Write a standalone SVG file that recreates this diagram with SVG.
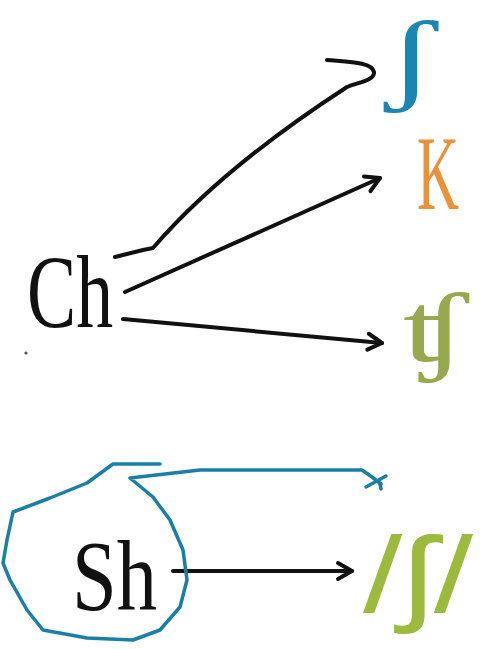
<svg xmlns="http://www.w3.org/2000/svg" width="493" height="649" viewBox="0 0 493 649">
<style>
.ink{fill:none;stroke:#111;stroke-width:4;stroke-linecap:round;stroke-linejoin:round}
.blue{fill:none;stroke:#1a7fa6;stroke-width:3.5;stroke-linecap:round;stroke-linejoin:round}
text{font-family:'Liberation Serif','Times New Roman',serif}
</style>
<defs>
<marker id="ah" markerWidth="8" markerHeight="8" refX="6" refY="4" orient="auto" markerUnits="userSpaceOnUse" viewBox="0 0 8 8" overflow="visible">
<path d="M-8,-4 L6,4 L-8,12" fill="none" stroke="#111" stroke-width="4" stroke-linecap="round" stroke-linejoin="round"/>
</marker>
</defs>
<rect width="493" height="649" fill="#fff"/>
<g id="ch"><text x="27" y="327" font-size="104" textLength="86" lengthAdjust="spacingAndGlyphs" fill="#111">Ch</text></g>
<g id="sh"><text x="72" y="609" font-size="100" textLength="85" lengthAdjust="spacingAndGlyphs" fill="#111">Sh</text></g>
<g id="k"><text x="417" y="209" font-size="106" textLength="42" lengthAdjust="spacingAndGlyphs" fill="#e8923c">K</text></g>
<g id="tsh"><text x="403" y="362" font-size="100" textLength="64" lengthAdjust="spacingAndGlyphs" fill="#98a84e">ʧ</text></g>
<g id="esh-slash"><text x="363" y="612" font-size="108" textLength="110" lengthAdjust="spacingAndGlyphs" fill="#9cba3e" style="font-family:'Liberation Sans',Arial,sans-serif">/ʃ/</text></g>
<g id="esh"><text x="386" y="91" font-size="101" textLength="50" lengthAdjust="spacingAndGlyphs" fill="#1b86b2">ʃ</text></g>
<circle cx="26" cy="353" r="1.6" fill="#555"/>
<g id="connectors">
<path class="ink" d="M125,292 L380,178" marker-end="url(#ah)"/>
<path class="ink" d="M123,319 L382,343" marker-end="url(#ah)"/>
<path class="ink" d="M115,257 L143,250 L153,248 C190,205 250,150 347,87 C360,82 375,80 374,72 C372,62 350,62 327,60"/>
<path class="ink" d="M173,571 L352,571" marker-end="url(#ah)"/>
<path class="blue" d="M160,464 L113,464 L87,483 L50,498 L13,512 L7,540 L3,563 L10,580 L27,610 L43,630 L87,638 L133,640 L160,630 L180,607 L187,580 L183,550 L170,520 L153,497 L130,478 L200,470 L362,470 L372,477 L381,484"/>
<path class="blue" d="M366,487 L386,476 M380,484 L381,489"/>
</g>
</svg>
